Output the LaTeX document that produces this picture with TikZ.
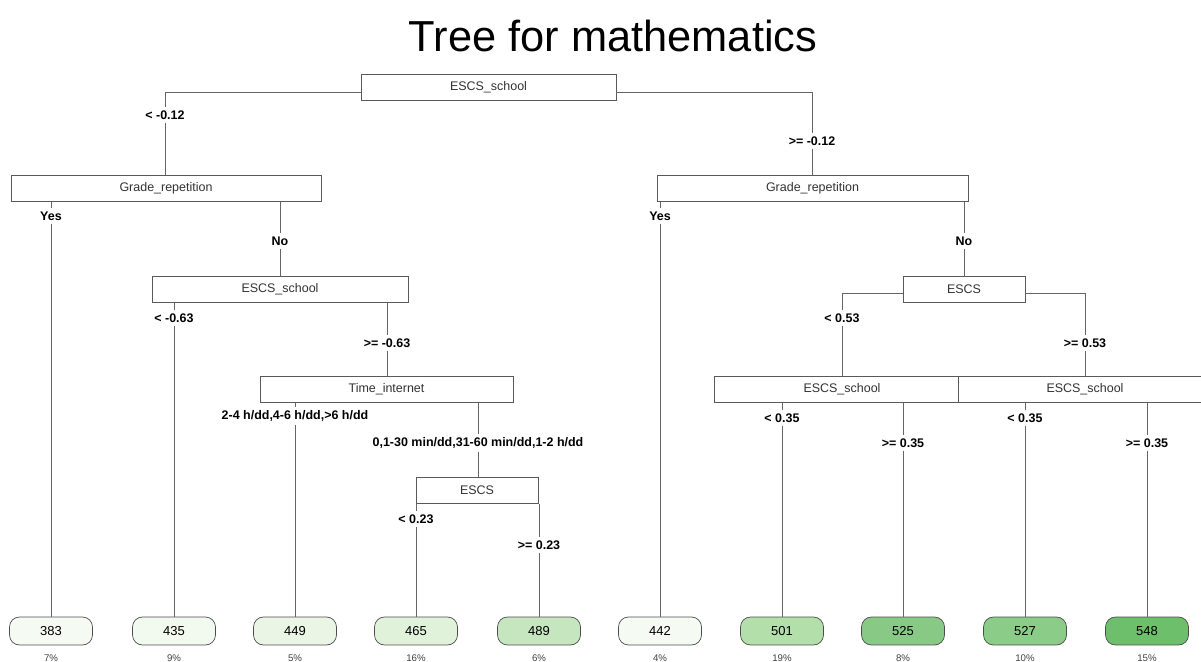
\documentclass[tikz,border=0pt]{standalone}
\usepackage{fontspec}
\setmainfont{Liberation Sans}
\usetikzlibrary{positioning}

% leaf fills, light to dark green
\definecolor{shadeA}{HTML}{F5FBF2}
\definecolor{shadeB}{HTML}{F2F9EE}
\definecolor{shadeC}{HTML}{EAF5E5}
\definecolor{shadeD}{HTML}{E1F2DB}
\definecolor{shadeE}{HTML}{C5E6BE}
\definecolor{shadeF}{HTML}{B3DFAB}
\definecolor{shadeG}{HTML}{88CA85}
\definecolor{shadeH}{HTML}{8BCC88}
\definecolor{shadeI}{HTML}{6DBF6C}

\begin{document}
\begin{tikzpicture}[x=0.02cm, y=-0.02cm,
    split/.style={rectangle, draw=black!65, fill=white, minimum height=0.52cm,
                  inner sep=0pt, text=black!80, font=\fontsize{7.1}{8}\selectfont},
    leaf/.style={rectangle, rounded corners=0.2cm, draw=black!70, minimum width=1.66cm,
                 minimum height=0.56cm, inner sep=0pt, text=black, font=\fontsize{7.4}{8}\selectfont},
    cond/.style={inner sep=1.6pt, font=\fontsize{7.1}{8}\selectfont\bfseries},
    pct/.style={inner sep=1pt, text=black!75, font=\fontsize{5.5}{6}\selectfont},
    edge/.style={draw=black!60, line width=0.55pt}]

    \useasboundingbox (0,0) rectangle (1201,662);

    % Title
    \node[anchor=base, font=\fontsize{24.7}{28}\selectfont] (title) at (613,52) {Tree for mathematics};

    % Split nodes
    \node[split, minimum width=5.1cm] (root) at (488.5,87) {ESCS\_school};
    \node[split, minimum width=6.2cm] (gradeL) at (166,188.5) {Grade\_repetition};
    \node[split, minimum width=5.12cm] (schoolL) at (280,289.5) {ESCS\_school};
    \node[split, minimum width=5.06cm] (internet) at (386.5,389.5) {Time\_internet};
    \node[split, minimum width=2.44cm] (escsL) at (477,490.5) {ESCS};
    \node[split, minimum width=6.22cm] (gradeR) at (812.5,188.5) {Grade\_repetition};
    \node[split, minimum width=2.44cm] (escsR) at (964,289.5) {ESCS};
    \node[split, minimum width=4.88cm] (schoolRa) at (836,389.5) {\hspace*{0.24cm}ESCS\_school};
    \node[split, minimum width=5.08cm] (schoolRb) at (1085,389.5) {ESCS\_school};

    % Leaves
    \node[leaf, fill=shadeA] (l383) at (51,631) {383};
    \node[leaf, fill=shadeB] (l435) at (174,631) {435};
    \node[leaf, fill=shadeC] (l449) at (295,631) {449};
    \node[leaf, fill=shadeD] (l465) at (416,631) {465};
    \node[leaf, fill=shadeE] (l489) at (539,631) {489};
    \node[leaf, fill=shadeA] (l442) at (660,631) {442};
    \node[leaf, fill=shadeF] (l501) at (782,631) {501};
    \node[leaf, fill=shadeG] (l525) at (903,631) {525};
    \node[leaf, fill=shadeH] (l527) at (1025,631) {527};
    \node[leaf, fill=shadeI] (l548) at (1147,631) {548};

    \node[pct, below=0.15cm of l383] {7\%};
    \node[pct, below=0.15cm of l435] {9\%};
    \node[pct, below=0.15cm of l449] {5\%};
    \node[pct, below=0.15cm of l465] {16\%};
    \node[pct, below=0.15cm of l489] {6\%};
    \node[pct, below=0.15cm of l442] {4\%};
    \node[pct, below=0.15cm of l501] {19\%};
    \node[pct, below=0.15cm of l525] {8\%};
    \node[pct, below=0.15cm of l527] {10\%};
    \node[pct, below=0.15cm of l548] {15\%};

    % Split labels
    \node[cond] (c12a) at (165,115) {< -0.12};
    \node[cond] (c12b) at (812,141) {>= -0.12};
    \node[cond] (yesL) at (51,216) {Yes};
    \node[cond] (noL) at (280,241) {No};
    \node[cond] (c63a) at (174,318) {< -0.63};
    \node[cond] (c63b) at (387,343) {>= -0.63};
    \node[cond] (hoursA) at (295,416) {2-4 h/dd,4-6 h/dd,>6 h/dd};
    \node[cond] (hoursB) at (478,443) {0,1-30 min/dd,31-60 min/dd,1-2 h/dd};
    \node[cond] (c23a) at (416,519) {< 0.23};
    \node[cond] (c23b) at (539,545) {>= 0.23};
    \node[cond] (yesR) at (660,216) {Yes};
    \node[cond] (noR) at (964,241) {No};
    \node[cond] (c53a) at (842,318) {< 0.53};
    \node[cond] (c53b) at (1085,343) {>= 0.53};
    \node[cond] (c35a) at (782,418) {< 0.35};
    \node[cond] (c35b) at (903,443) {>= 0.35};
    \node[cond] (c35c) at (1025,418) {< 0.35};
    \node[cond] (c35d) at (1147,443) {>= 0.35};

    % Edges
    \draw[edge] ([yshift=-0.1cm]root.west) -| (c12a.north);
    \draw[edge] (c12a.south) -- (gradeL.north -| c12a);
    \draw[edge] ([yshift=-0.1cm]root.east) -| (c12b.north);
    \draw[edge] (c12b.south) -- (gradeR.north -| c12b);

    \draw[edge] (gradeL.south -| yesL) -- (yesL.north);
    \draw[edge] (yesL.south) -- (l383.north);
    \draw[edge] (gradeL.south -| noL) -- (noL.north);
    \draw[edge] (noL.south) -- (schoolL.north -| noL);

    \draw[edge] (schoolL.south -| c63a) -- (c63a.north);
    \draw[edge] (c63a.south) -- (l435.north);
    \draw[edge] (schoolL.south -| c63b) -- (c63b.north);
    \draw[edge] (c63b.south) -- (internet.north -| c63b);

    \draw[edge] (internet.south -| hoursA) -- (hoursA.north);
    \draw[edge] (hoursA.south) -- (l449.north);
    \draw[edge] (internet.south -| hoursB) -- (hoursB.north);
    \draw[edge] (hoursB.south) -- (escsL.north -| hoursB);

    \draw[edge] (escsL.south -| c23a) -- (c23a.north);
    \draw[edge] (c23a.south) -- (l465.north);
    \draw[edge] (escsL.south -| c23b) -- (c23b.north);
    \draw[edge] (c23b.south) -- (l489.north);

    \draw[edge] (gradeR.south -| yesR) -- (yesR.north);
    \draw[edge] (yesR.south) -- (l442.north);
    \draw[edge] (gradeR.south -| noR) -- (noR.north);
    \draw[edge] (noR.south) -- (escsR.north -| noR);

    \draw[edge] ([yshift=-0.07cm]escsR.west) -| (c53a.north);
    \draw[edge] (c53a.south) -- (schoolRa.north -| c53a);
    \draw[edge] ([yshift=-0.07cm]escsR.east) -| (c53b.north);
    \draw[edge] (c53b.south) -- (schoolRb.north -| c53b);

    \draw[edge] (schoolRa.south -| c35a) -- (c35a.north);
    \draw[edge] (c35a.south) -- (l501.north);
    \draw[edge] (schoolRa.south -| c35b) -- (c35b.north);
    \draw[edge] (c35b.south) -- (l525.north);
    \draw[edge] (schoolRb.south -| c35c) -- (c35c.north);
    \draw[edge] (c35c.south) -- (l527.north);
    \draw[edge] (schoolRb.south -| c35d) -- (c35d.north);
    \draw[edge] (c35d.south) -- (l548.north);

\end{tikzpicture}
\end{document}
